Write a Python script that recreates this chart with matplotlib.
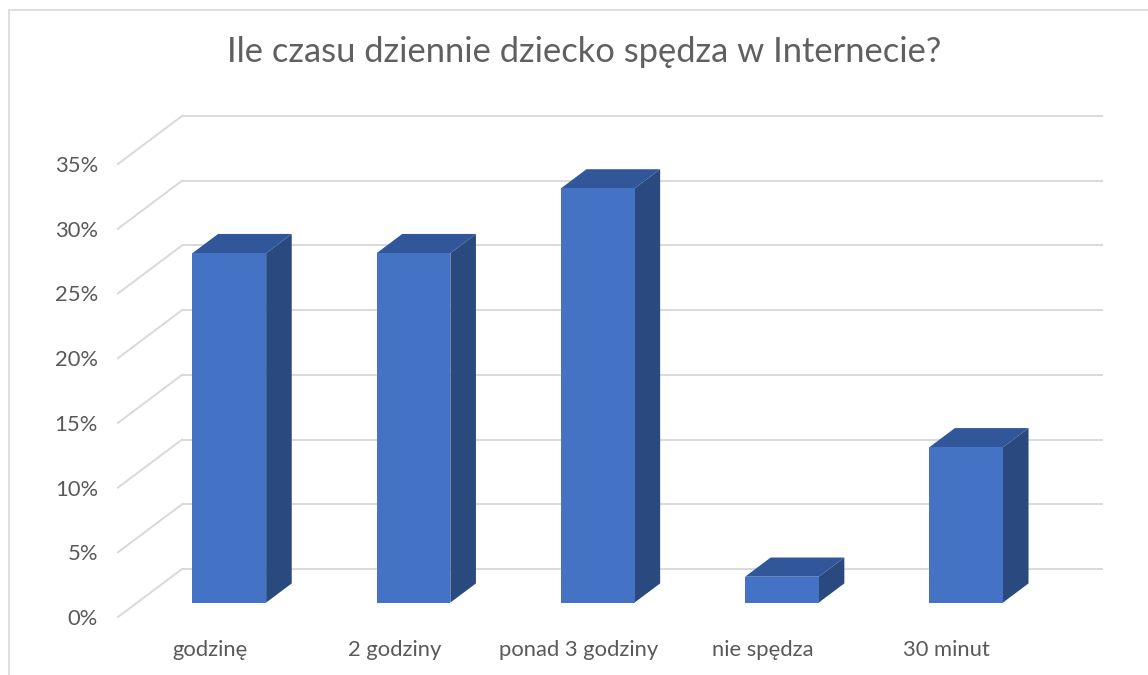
import matplotlib.pyplot as plt
from matplotlib.patches import Polygon, Rectangle

# data
categories = ['godzinę', '2 godziny', 'ponad 3 godziny', 'nie spędza', '30 minut']
values = [27, 27, 32, 2, 12]          # percent
ticks = [0, 5, 10, 15, 20, 25, 30, 35]
title = 'Ile czasu dziennie dziecko spędza w Internecie?'

plt.rcParams['font.family'] = ['Lato', 'DejaVu Sans']
txt_col = '#595959'
grid_col = '#d9d9d9'
c_front = '#4472C4'
c_top = '#31569A'
c_side = '#2A4A7F'

W, H = 1148, 675
fig = plt.figure(figsize=(W / 100, H / 100), dpi=100)
ax = fig.add_axes([0, 0, 1, 1])
ax.axis('off')

# back wall: x=0 at px 182, x=5 at px 1103; y=0 at px 569 (from top), y=35 at px 116
px_per_cat = (1103 - 182) / 5
px_per_pct = (569 - 116) / 35
ax.set_xlim(-182 / px_per_cat, (W - 182) / px_per_cat)
y0 = (H - 569) / px_per_pct
ax.set_ylim(-y0, (H / px_per_pct) - y0)

# depth offset of the floor (front edge relative to back wall)
Dx = 64 / px_per_cat
Dy = 48 / px_per_pct

# grid: back wall horizontals and side wall diagonals
for t in ticks:
    ax.plot([0, len(categories)], [t, t], color=grid_col, lw=1.4, zorder=1,
            solid_capstyle='butt')
    ax.plot([-Dx, 0], [t - Dy, t], color=grid_col, lw=1.4, zorder=1)
    ax.text(-Dx - 20 / px_per_cat, t - Dy - 2 / px_per_pct, f'{t}%', ha='right',
            va='center', fontsize=15.8, color=txt_col)

# bars (oblique 3D look)
bw = 0.2            # half width
zf, zb = 0.3, 0.7   # front/back depth of bars (0 = front, 1 = back wall)
for i, (cat, v) in enumerate(zip(categories, values)):
    c = i + 0.5
    fx, fy = -(1 - zf) * Dx, -(1 - zf) * Dy
    bx, by = -(1 - zb) * Dx, -(1 - zb) * Dy
    l, r = c - bw, c + bw
    side = Polygon([(r + fx, fy), (r + bx, by), (r + bx, v + by), (r + fx, v + fy)],
                   closed=True, fc=c_side, ec='none', zorder=3)
    top = Polygon([(l + fx, v + fy), (r + fx, v + fy), (r + bx, v + by), (l + bx, v + by)],
                  closed=True, fc=c_top, ec='none', zorder=3)
    front = Rectangle((l + fx, fy), 2 * bw, v, fc=c_front, ec='none', zorder=4)
    ax.add_patch(side)
    ax.add_patch(top)
    ax.add_patch(front)
    ax.text(c - Dx, -Dy - 33 / px_per_pct, cat, ha='center', va='center',
            fontsize=15.8, color=txt_col)

# chart area border (only top/left visible in the reference crop)
fig.add_artist(Rectangle((9 / W, -0.05), 1.2, 1 - 10 / H + 0.05,
                         transform=fig.transFigure, fc='none', ec=grid_col, lw=1.2))

fig.text(584 / W, 1 - 52 / H, title, ha='center', va='center', fontsize=24.8,
         color='#606060')

fig.savefig('out.png', dpi=100)
